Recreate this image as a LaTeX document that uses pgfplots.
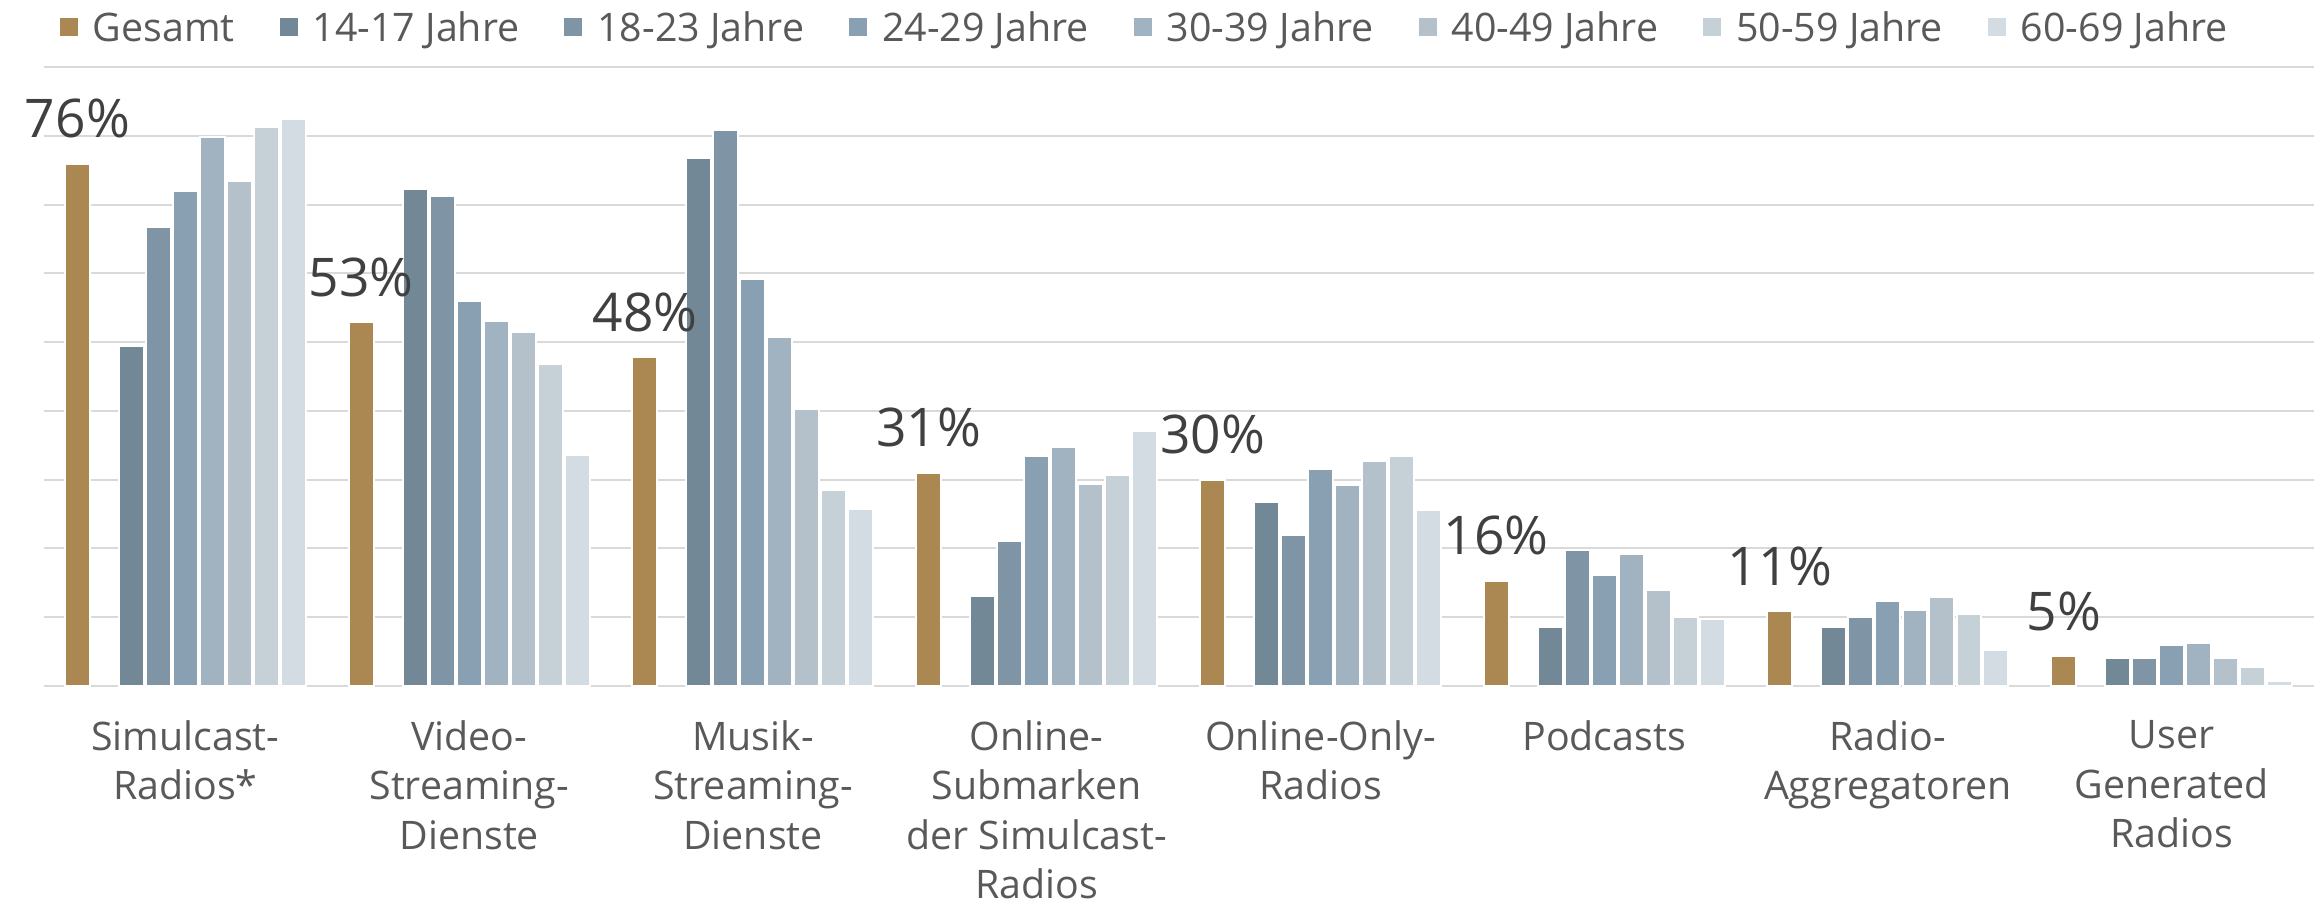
\documentclass[border=0pt]{standalone}
\usepackage{pgfplots}
\pgfplotsset{compat=1.18}
\usepackage{pgfplotstable}
\usepackage{fontspec}
\setmainfont{Open Sans}
\definecolor{cG}{HTML}{AB8751}
\definecolor{cA}{HTML}{738896}
\definecolor{cB}{HTML}{7F95A5}
\definecolor{cC}{HTML}{899FB2}
\definecolor{cD}{HTML}{A1B2C0}
\definecolor{cE}{HTML}{B4C0CA}
\definecolor{cF}{HTML}{C5D0D7}
\definecolor{cH}{HTML}{D4DCE3}
\definecolor{gridc}{HTML}{D9D9D9}
\definecolor{lab}{HTML}{595959}
\definecolor{val}{HTML}{404040}
\pgfplotstableread{
x G A B C D E F H L
0 75.9 49.5 66.7 72.0 79.8 73.4 81.2 82.5 76
1 52.9 72.3 71.3 56.0 53.1 51.5 46.8 33.6 53
2 47.8 76.8 80.9 59.2 50.8 40.2 28.5 25.7 48
3 31.0 13.1 21.1 33.5 34.8 29.4 30.7 37.0 31
4 30.0 26.8 21.9 31.6 29.2 32.7 33.4 25.6 30
5 15.3 8.6 19.7 16.1 19.2 14.0 10.0 9.7 16
6 10.9 8.6 10.0 12.3 11.0 13.0 10.5 5.2 11
7 4.3 4.0 4.0 5.9 6.2 4.1 2.7 0.7 5
}\data
\begin{document}
\begin{tikzpicture}
\begin{axis}[
  width=681pt, height=185.7pt, scale only axis,
  xmin=-0.5, xmax=7.5, ymin=0, ymax=90,
  axis line style={draw=none},
  ytick={0,10,...,90}, yticklabels={},
  ymajorgrids, grid style={draw=gridc, line width=0.6pt},
  major tick length=0pt,
  xtick={0,...,7},
  xticklabels={{Simulcast-\\Radios*},{Video-\\Streaming-\\Dienste},{Musik-\\Streaming-\\Dienste},{Online-\\Submarken\\der Simulcast-\\Radios},{Online-Only-\\Radios},{Podcasts},{Radio-\\Aggregatoren},{User\\Generated\\Radios}},
  xticklabel style={font=\fontsize{11.8}{14.8}\selectfont, text=lab, align=center, anchor=north, inner sep=0pt, yshift=-10.2pt},
  clip=false,
  legend columns=8,
  legend style={at={(0.0072,1.0638)}, anchor=west, draw=none, fill=none, inner sep=0pt, outer sep=0pt,
    font=\fontsize{11.8}{14}\selectfont, text=lab,
    /tikz/every odd column/.append style={column sep=4.5pt},
    /tikz/every even column/.append style={column sep=13.5pt},
    cells={anchor=west},
    nodes={inner sep=0pt, text height=8.5pt, text depth=0pt}},
  legend image code/.code={\fill[#1, draw=none] (0pt,-2.7pt) rectangle (5.4pt,2.7pt);},
  every axis plot/.append style={ybar, bar width=0.088, draw=white, line width=0.6pt},
]
\addplot[fill=cG, bar shift=-0.3806, point meta=explicit symbolic,
  nodes near coords={\pgfplotspointmeta\%},
  every node near coord/.append style={font=\fontsize{16}{19}\selectfont, text=val, anchor=base, xshift=-32.4pt, yshift=7.8pt, inner sep=0pt}]
  table[x=x, y=G, meta=L]{\data};
\addlegendentry{Gesamt}
\addplot[fill=cA, bar shift=-0.1903] table[x=x, y=A]{\data};
\addlegendentry{14-17 Jahre}
\addplot[fill=cB, bar shift=-0.0952] table[x=x, y=B]{\data};
\addlegendentry{18-23 Jahre}
\addplot[fill=cC, bar shift=0] table[x=x, y=C]{\data};
\addlegendentry{24-29 Jahre}
\addplot[fill=cD, bar shift=0.0952] table[x=x, y=D]{\data};
\addlegendentry{30-39 Jahre}
\addplot[fill=cE, bar shift=0.1903] table[x=x, y=E]{\data};
\addlegendentry{40-49 Jahre}
\addplot[fill=cF, bar shift=0.2855] table[x=x, y=F]{\data};
\addlegendentry{50-59 Jahre}
\addplot[fill=cH, bar shift=0.3806] table[x=x, y=H]{\data};
\addlegendentry{60-69 Jahre}
\path (rel axis cs:-0.0192,-0.3522) rectangle (rel axis cs:1.00326,1.1082);
\end{axis}
\end{tikzpicture}
\end{document}
